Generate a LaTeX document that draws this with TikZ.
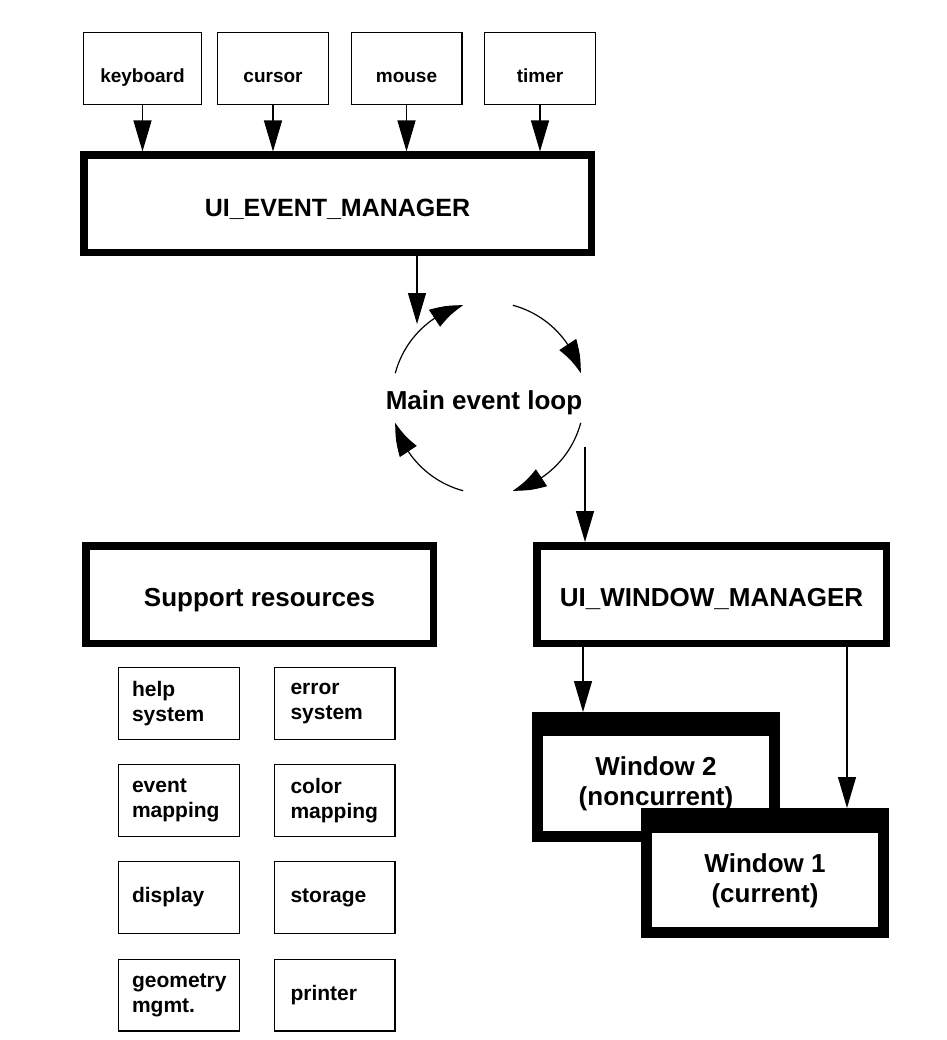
\documentclass[tikz,border=0pt]{standalone}
\usepackage{fontspec}
\setmainfont{Liberation Sans}
\usetikzlibrary{calc,positioning,arrows.meta,bending}

\begin{document}
\begin{tikzpicture}[x=1pt,y=1pt,
  inbox/.style={draw, line width=1.3pt, minimum height=71.7pt, text height=28pt, text depth=0pt, font=\fontsize{19}{23}\selectfont\bfseries},
  mgrbox/.style={draw, line width=7.5pt, minimum height=97.5pt, text height=24.6pt, text depth=0pt, font=\fontsize{26}{30}\selectfont\bfseries},
  resbox/.style={draw, line width=1.3pt, minimum width=120.7pt, minimum height=71.7pt, inner xsep=13pt, text width=94pt, align=left, font=\fontsize{21}{25}\selectfont\bfseries},
  rescol/.style={inner xsep=16pt, text width=88pt},
  winbox/.style={draw, fill=white, line width=11pt, minimum width=237pt, minimum height=119pt, font=\fontsize{26}{30}\selectfont\bfseries},
  arr/.style={line width=1.2pt, -{Triangle[length=31pt,width=18pt]}},
  looparr/.style={line width=1.2pt, -{Triangle[length=32pt,width=20pt,bend]}}]
\useasboundingbox (0,0) rectangle (946,-1040);
% input devices
\node[inbox, minimum width=117.7pt] (kbd) at (142.5,-68.5) {keyboard};
\node[inbox, minimum width=110.7pt] (cur) at (273,-68.5) {cursor};
\node[inbox, minimum width=110.7pt] (mouse) at (406.5,-68.5) {mouse};
\node[inbox, minimum width=110.7pt] (timer) at (540,-68.5) {timer};
% event manager
\node[mgrbox, minimum width=507.5pt, font=\fontsize{25}{30}\selectfont\bfseries] (em) at (337.5,-204) {UI\_EVENT\_MANAGER};
\draw[arr] (kbd) -- (kbd |- em.north);
\draw[arr] (cur) -- (cur |- em.north);
\draw[arr] (mouse) -- (mouse |- em.north);
\draw[arr] (timer) -- (timer |- em.north);
% main event loop
\coordinate (c) at (488,-398);
\node[font=\fontsize{26}{30}\selectfont\bfseries] (loop) at (484,-403) {Main event loop};
\draw[looparr] ($(c)+(165:96)$) arc[start angle=165, end angle=105, radius=96];
\draw[looparr] ($(c)+(75:96)$) arc[start angle=75, end angle=15, radius=96];
\draw[looparr] ($(c)+(-15:96)$) arc[start angle=-15, end angle=-75, radius=96];
\draw[looparr] ($(c)+(-105:96)$) arc[start angle=-105, end angle=-165, radius=96];
\coordinate (loopin) at (417,-324);
\draw[arr] (em.south -| loopin) -- (loopin);
% managers
\node[mgrbox, minimum width=349.5pt] (wm) at (711.5,-594.5) {UI\_WINDOW\_MANAGER};
\node[mgrbox, minimum width=347.5pt] (sup) at (259.5,-594.5) {Support resources};
\coordinate (loopout) at (585,-447);
\draw[arr] (loopout) -- (loopout |- wm.north);
% windows
\node[winbox] (win2) at (656,-777) {\raisebox{-13.5pt}[0pt][0pt]{\begin{tabular}{@{}c@{}}Window 2\\(noncurrent)\end{tabular}}};
\fill (win2.north west) rectangle ([yshift=-24pt]win2.north east);
\node[winbox] (win1) at (765,-873) {\raisebox{-14.5pt}[0pt][0pt]{\begin{tabular}{@{}c@{}}Window 1\\(current)\end{tabular}}};
\fill (win1.north west) rectangle ([yshift=-25pt]win1.north east);
\path (wm.south) ++(-128.5,0) coordinate (wmL);
\path (wm.south) ++(135.5,0) coordinate (wmR);
\draw[arr] (wmL) -- (wmL |- win2.north);
\draw[arr] (wmR) -- (wmR |- win1.north);
% support resources
\node[resbox] (help) at (179,-703.5) {help\\system};
\node[resbox, rescol] (err) at (334.5,-703.5) {error\\system};
\node[resbox] (evmap) at (179,-800.5) {event\\mapping};
\node[resbox, rescol] (colmap) at (334.5,-800.5) {color\\mapping};
\node[resbox] (disp) at (179,-897.5) {display};
\node[resbox, rescol] (stor) at (334.5,-897.5) {storage};
\node[resbox] (geom) at (179,-995) {geometry\\mgmt.};
\node[resbox, rescol] (print) at (334.5,-995) {printer};
\end{tikzpicture}
\end{document}
